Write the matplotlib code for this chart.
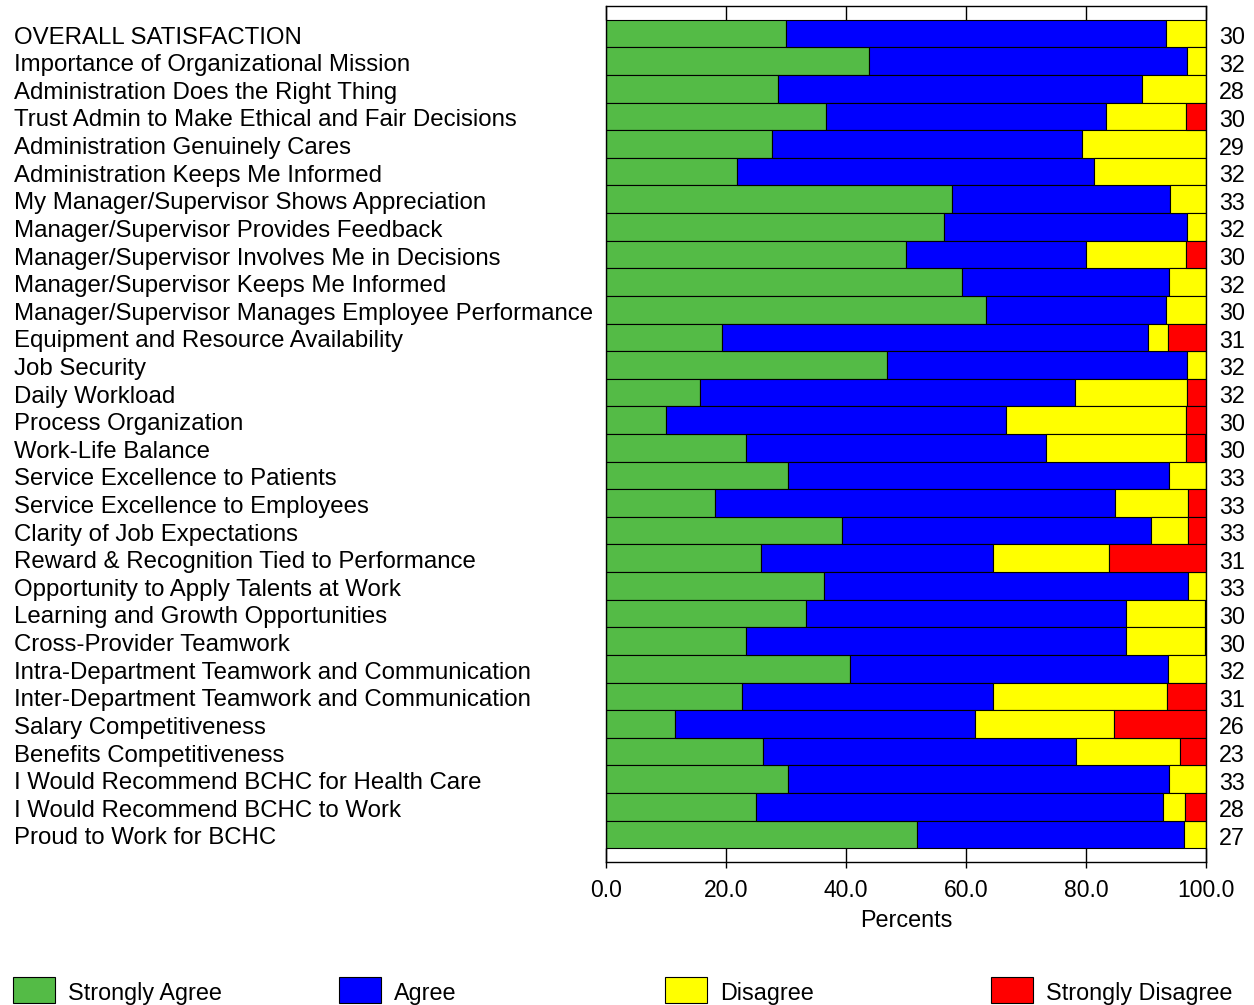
import matplotlib

matplotlib.use("Agg")

from matplotlib import pyplot as plt
from matplotlib.patches import Rectangle
from matplotlib.ticker import FixedLocator
from matplotlib.transforms import blended_transform_factory, offset_copy

plt.rcParams["font.family"] = ["Liberation Sans", "DejaVu Sans"]

items = [
    "OVERALL SATISFACTION",
    "Importance of Organizational Mission",
    "Administration Does the Right Thing",
    "Trust Admin to Make Ethical and Fair Decisions",
    "Administration Genuinely Cares",
    "Administration Keeps Me Informed",
    "My Manager/Supervisor Shows Appreciation",
    "Manager/Supervisor Provides Feedback",
    "Manager/Supervisor Involves Me in Decisions",
    "Manager/Supervisor Keeps Me Informed",
    "Manager/Supervisor Manages Employee Performance",
    "Equipment and Resource Availability",
    "Job Security",
    "Daily Workload",
    "Process Organization",
    "Work-Life Balance",
    "Service Excellence to Patients",
    "Service Excellence to Employees",
    "Clarity of Job Expectations",
    "Reward & Recognition Tied to Performance",
    "Opportunity to Apply Talents at Work",
    "Learning and Growth Opportunities",
    "Cross-Provider Teamwork",
    "Intra-Department Teamwork and Communication",
    "Inter-Department Teamwork and Communication",
    "Salary Competitiveness",
    "Benefits Competitiveness",
    "I Would Recommend BCHC for Health Care",
    "I Would Recommend BCHC to Work",
    "Proud to Work for BCHC",
]

strongly_agree = [30.0, 43.8, 28.6, 36.7, 27.6, 21.9, 57.6, 56.3, 50.0, 59.4,
                  63.3, 19.4, 46.9, 15.6, 10.0, 23.3, 30.3, 18.2, 39.4, 25.8,
                  36.4, 33.3, 23.3, 40.6, 22.6, 11.5, 26.1, 30.3, 25.0, 51.9]
agree = [63.3, 53.1, 60.7, 46.7, 51.7, 59.4, 36.4, 40.6, 30.0, 34.4,
         30.0, 71.0, 50.0, 62.5, 56.7, 50.0, 63.6, 66.7, 51.5, 38.7,
         60.6, 53.3, 63.3, 53.1, 41.9, 50.0, 52.2, 63.6, 67.9, 44.4]
disagree = [6.7, 3.1, 10.7, 13.3, 20.7, 18.7, 6.0, 3.1, 16.7, 6.2,
            6.7, 3.2, 3.1, 18.8, 30.0, 23.3, 6.1, 12.1, 6.1, 19.4,
            3.0, 13.3, 13.3, 6.3, 29.0, 23.1, 17.4, 6.1, 3.6, 3.7]
strongly_disagree = [0.0, 0.0, 0.0, 3.3, 0.0, 0.0, 0.0, 0.0, 3.3, 0.0,
                     0.0, 6.4, 0.0, 3.1, 3.3, 3.3, 0.0, 3.0, 3.0, 16.1,
                     0.0, 0.0, 0.0, 0.0, 6.5, 15.4, 4.3, 0.0, 3.5, 0.0]
counts = [30, 32, 28, 30, 29, 32, 33, 32, 30, 32, 30, 31, 32, 32, 30,
          30, 33, 33, 33, 31, 33, 30, 30, 32, 31, 26, 23, 33, 28, 27]

categories = ["Strongly Agree", "Agree", "Disagree", "Strongly Disagree"]
colors = ["#54BB46", "#0000FF", "#FFFF00", "#FF0000"]
series = [strongly_agree, agree, disagree, strongly_disagree]

W, H = 1254, 1005
fig = plt.figure(figsize=(W / 100, H / 100), dpi=100)
ax = fig.add_axes([606 / W, 143 / H, 600 / W, 856 / H])

rows = list(range(len(items)))
left = [0.0] * len(items)
for values, color in zip(series, colors):
    ax.barh(rows, values, left=left, height=1.0, color=color,
            edgecolor="black", linewidth=0.8)
    left = [a + b for a, b in zip(left, values)]

ax.set_xlim(0, 100)
ax.set_ylim(len(items), -1)
ax.set_yticks([])

ticks = [0, 20, 40, 60, 80, 100]
ax.set_xticks(ticks, [f"{t:.1f}" for t in ticks], fontsize=16.5)
ax.xaxis.remove_overlapping_locs = False
ax.xaxis.set_minor_locator(FixedLocator(ticks))
ax.tick_params(axis="x", which="major", direction="out", length=4.5,
               width=1, pad=8, top=False)
ax.tick_params(axis="x", which="minor", direction="in", length=10,
               width=1, top=True, bottom=True)
ax.set_xlabel("Percents", fontsize=16.8, labelpad=5)

# row labels on the far left, counts just right of the plot
label_trans = offset_copy(blended_transform_factory(fig.transFigure, ax.transData),
                          fig=fig, y=-1.5, units="dots")
count_trans = offset_copy(blended_transform_factory(ax.transAxes, ax.transData),
                          fig=fig, x=13, y=-1.5, units="dots")
for row, name, n in zip(rows, items, counts):
    ax.text(14 / W, row, name, transform=label_trans, ha="left",
            va="center_baseline", fontsize=17.25)
    ax.text(1.0, row, str(n), transform=count_trans, ha="left",
            va="center_baseline", fontsize=16.8)

for spine in ax.spines.values():
    spine.set_linewidth(1)

# legend drawn by hand so the entries sit at even spacing
for i, (name, color) in enumerate(zip(categories, colors)):
    x0 = 13 + i * 326
    fig.add_artist(Rectangle((x0 / W, 2 / H), 42 / W, 26 / H,
                             transform=fig.transFigure, facecolor=color,
                             edgecolor="black", linewidth=0.8))
    fig.text((x0 + 55) / W, 12 / H, name, ha="left", va="center",
             fontsize=16.8)

fig.savefig("out.png", dpi=100)
